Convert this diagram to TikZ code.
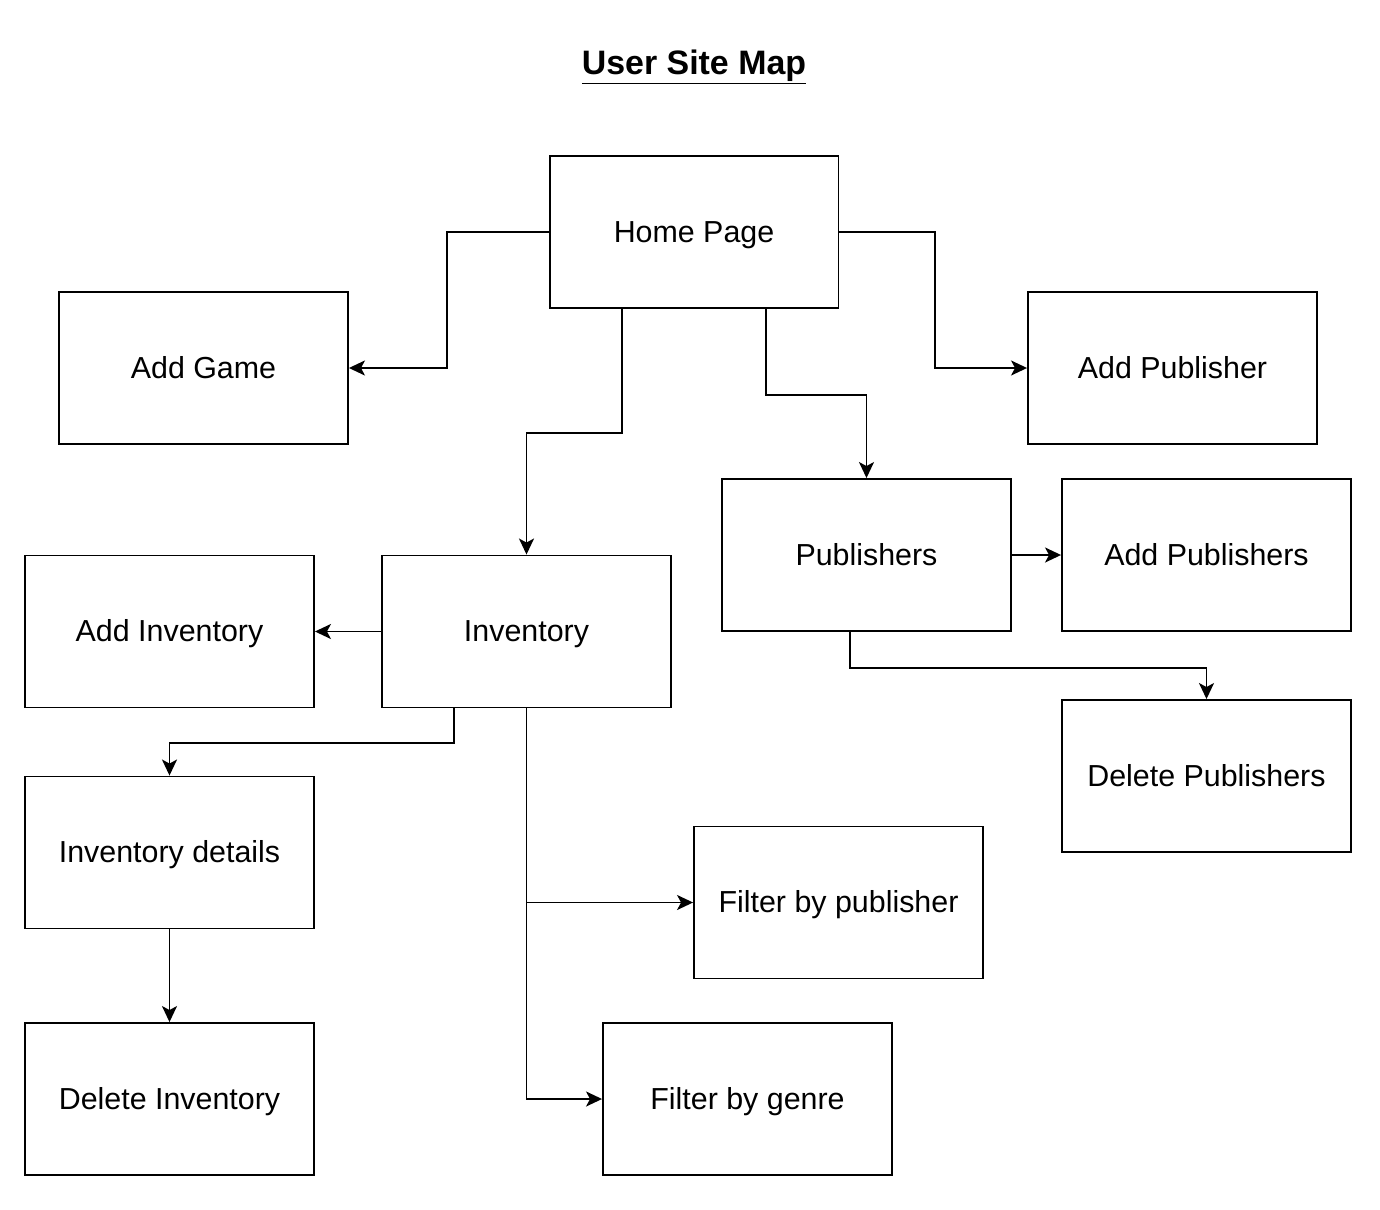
\documentclass[tikz,border=0pt]{standalone}
\usepackage{fontspec}
\setmainfont{Liberation Sans}
\usetikzlibrary{arrows.meta}
\tikzset{
  page/.style={draw, line width=1.1pt, minimum width=5.78cm, minimum height=3.04cm,
    inner sep=0pt, text height=11.6pt, text depth=0pt, font=\fontsize{17.3}{20}\selectfont},
  link/.style={line width=1.1pt, -{Stealth[length=0.32cm, width=0.3cm, inset=0.08cm]}}
}
\begin{document}
\begin{tikzpicture}[x=0.02cm, y=-0.02cm]
      \useasboundingbox (0,0) rectangle (1380,1210);
      \node (title) at (694,67) {\fontsize{19.3}{22}\selectfont\bfseries\underline{User Site Map}};
      \draw
        (694,232) node[page] (home){Home Page}
        (203.5,368) node[page] (addgame){Add Game}
        (1172.5,368) node[page] (addpub){Add Publisher}
        (866.5,555) node[page] (publishers){Publishers}
        (1206.5,555) node[page] (addpubs){Add Publishers}
        (1206.5,776) node[page] (delpubs){Delete Publishers}
        (169.5,631.5) node[page] (addinv){Add Inventory}
        (526.5,631.5) node[page] (inventory){Inventory}
        (169.5,852.5) node[page] (invdetails){Inventory details}
        (169.5,1099) node[page] (delinv){Delete Inventory}
        (838.5,902.5) node[page] (bypub){Filter by publisher}
        (747.5,1099) node[page] (bygenre){Filter by genre};
      \begin{scope}[link]
        \draw (home.west) -- ++(-102,0) |- (addgame.east);
        \draw ([xshift=-1.44cm]home.south) -- ++(0,124) -| (inventory.north);
        \draw ([xshift=1.44cm]home.south) -- ++(0,86) -| (publishers.north);
        \draw (home.east) -- ++(96,0) |- (addpub.west);
        \draw (publishers.east) -- (addpubs.west);
        \draw ([xshift=-0.33cm]publishers.south) -- ++(0,36) -| (delpubs.north);
        \draw (inventory.west) -- (addinv.east);
        \draw ([xshift=-1.45cm]inventory.south) -- ++(0,35) -| (invdetails.north);
        \draw (inventory.south) |- (bygenre.west);
        \draw (inventory.south |- bypub.west) -- (bypub.west);
        \draw (invdetails.south) -- (delinv.north);
      \end{scope}
    \end{tikzpicture}
\end{document}
